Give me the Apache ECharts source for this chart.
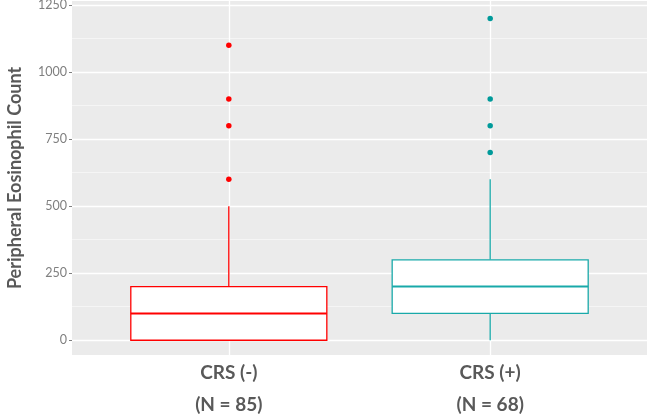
<!DOCTYPE html>
<html>
<head>
<meta charset="utf-8">
<script src="https://cdn.jsdelivr.net/npm/echarts@6/dist/echarts.min.js"></script>
<style>html,body{margin:0;padding:0;background:#fff}#c{width:650px;height:419px}</style>
</head>
<body>
<div id="c"></div>
<script>
var categories = ['CRS (-)', 'CRS (+)'];
var sampleSizes = ['(N = 85)', '(N = 68)'];
// [min, Q1, median, Q3, max]
var statsNeg = [0, 0, 100, 200, 500];
var statsPos = [0, 100, 200, 300, 600];
var outliersNeg = [600, 800, 900, 1100];
var outliersPos = [700, 800, 900, 1200];
var yTicks = [0, 250, 500, 750, 1000, 1250];
var yMinorTicks = [125, 375, 625, 875, 1125];
var colors = ['#FF0000', '#19A9A9'];
var pointColors = ['#FF0000', '#009A9A'];

var chart = echarts.init(document.getElementById('c'), null, {renderer: 'canvas'});
var fontFam = 'Lato, "Open Sans", sans-serif';

function boxSeries(idx, stats) {
  return {
    type: 'custom',
    xAxisIndex: 0, yAxisIndex: 0,
    data: [[idx + 1].concat(stats)],
    encode: {x: 0, y: [1, 2, 3, 4, 5]},
    z: 3,
    renderItem: function (params, api) {
      var x = api.value(0);
      var mn = api.coord([x, api.value(1)]);
      var q1 = api.coord([x, api.value(2)]);
      var md = api.coord([x, api.value(3)]);
      var q3 = api.coord([x, api.value(4)]);
      var mx = api.coord([x, api.value(5)]);
      var hw = api.size([0.75, 0])[0] / 2;
      var c = colors[idx];
      var lw = 1.3;
      return {
        type: 'group',
        children: [
          {type: 'line', shape: {x1: q3[0], y1: q3[1], x2: mx[0], y2: mx[1]}, style: {stroke: c, lineWidth: lw}},
          {type: 'line', shape: {x1: q1[0], y1: q1[1], x2: mn[0], y2: mn[1]}, style: {stroke: c, lineWidth: lw}},
          {type: 'rect', shape: {x: q3[0] - hw, y: q3[1], width: 2 * hw, height: q1[1] - q3[1]}, style: {fill: '#FFFFFF', stroke: c, lineWidth: lw}},
          {type: 'line', shape: {x1: md[0] - hw, y1: md[1], x2: md[0] + hw, y2: md[1]}, style: {stroke: c, lineWidth: 2}}
        ]
      };
    }
  };
}

function outlierSeries(idx, vals) {
  return {
    type: 'scatter',
    xAxisIndex: 0, yAxisIndex: 0,
    data: vals.map(function (v) { return [idx + 1, v]; }),
    symbolSize: 5.5,
    itemStyle: {color: pointColors[idx], opacity: 1},
    z: 4
  };
}

var option = {
  animation: false,
  grid: {left: 72, right: 3, top: 1, bottom: 64, show: true, backgroundColor: '#EBEBEB', borderWidth: 0,
         containLabel: false, outerBoundsMode: 'none'},
  xAxis: [{
    type: 'value', min: 0.4, max: 2.6,
    axisLine: {show: false},
    axisTick: {show: false, customValues: [1, 2]},
    axisLabel: {
      customValues: [1, 2],
      margin: 2,
      formatter: function (v) {
        var i = Math.round(v) - 1;
        return categories[i] + '\n' + sampleSizes[i];
      },
      color: '#595959', fontFamily: fontFam, fontWeight: 'bold', fontSize: 19, lineHeight: 32
    },
    splitLine: {show: true, lineStyle: {color: '#FFFFFF', width: 1.3}}
  }],
  yAxis: [{
    type: 'value', min: -55, max: 1265,
    name: 'Peripheral Eosinophil Count',
    nameLocation: 'middle', nameGap: 48,
    nameTextStyle: {color: '#595959', fontFamily: fontFam, fontWeight: 'bold', fontSize: 18},
    axisLine: {show: false},
    axisTick: {show: true, customValues: yTicks, length: 3, lineStyle: {color: '#7F7F7F'}},
    axisLabel: {customValues: yTicks, margin: 5, color: '#7F7F7F', fontFamily: fontFam, fontSize: 12.5,
                formatter: function (v) { return String(v); }},
    splitLine: {show: true, lineStyle: {color: '#FFFFFF', width: 1.3}}
  }, {
    type: 'value', min: -55, max: 1265, position: 'left',
    axisLine: {show: false},
    axisTick: {show: false, customValues: yMinorTicks},
    axisLabel: {show: false, customValues: yMinorTicks},
    splitLine: {show: true, lineStyle: {color: '#F7F7F7', width: 0.8}}
  }],
  series: [
    boxSeries(0, statsNeg),
    boxSeries(1, statsPos),
    outlierSeries(0, outliersNeg),
    outlierSeries(1, outliersPos)
  ]
};
chart.setOption(option);
</script>
</body>
</html>
